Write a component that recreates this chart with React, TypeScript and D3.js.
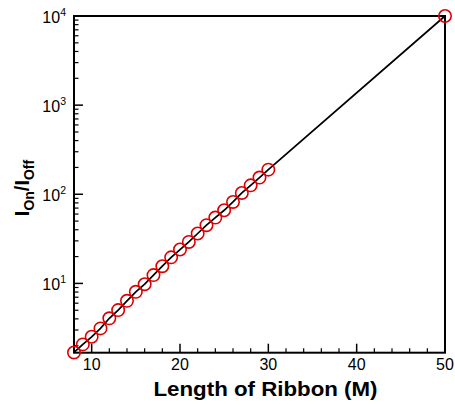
import React from "react";
import * as d3 from "d3";

const lengths = [8, 9, 10, 11, 12, 13, 14, 15, 16, 17, 18, 19, 20, 21, 22, 23, 24, 25, 26, 27, 28, 29, 30, 50];
const ratios = [1.68, 2.07, 2.52, 3.13, 4.06, 5.02, 6.38, 8.05, 9.8, 12.4, 15.6, 19.6, 24.0, 29.2, 36.3, 45.0, 54.8, 66.2, 82, 103.5, 126, 154, 189, 10000];
const xTicks = [10, 20, 30, 40, 50];
const xMinorTicks = [8, 12, 14, 16, 18, 22, 24, 26, 28, 32, 34, 36, 38, 42, 44, 46, 48];
const yTickExps = [1, 2, 3, 4];

const W = 455, H = 405;
const L = 74, R = 445, T = 16, B = 352.7;

export default function App() {
  const x = d3.scaleLinear().domain([8, 50]).range([L, R]);
  const y = d3.scaleLog().domain([1.67, 10000]).range([B, T]);
  const data = lengths.map((l, i) => ({ l, r: ratios[i] }));
  const line = d3.line<{ l: number; r: number }>().x(d => x(d.l)).y(d => y(d.r));
  const minorY: number[] = [];
  for (let e = 0; e <= 3; e++) for (let k = 2; k <= 9; k++) {
    const v = k * Math.pow(10, e);
    if (v >= 1.67 && v <= 10000) minorY.push(v);
  }
  const font = "'Liberation Sans', Arial, Helvetica, sans-serif";
  return (
    <svg width={W} height={H} style={{ position: "absolute", left: 0, top: 0 }} fontFamily={font}>
      <rect width={W} height={H} fill="white" />
      {xTicks.map(t => (
        <line key={"xt" + t} x1={x(t)} x2={x(t)} y1={B} y2={B - 9} stroke="black" strokeWidth={1.5} />
      ))}
      {xMinorTicks.map(t => (
        <line key={"xm" + t} x1={x(t)} x2={x(t)} y1={B} y2={B - 4.5} stroke="black" strokeWidth={1.2} />
      ))}
      {yTickExps.map(e => (
        <line key={"yt" + e} x1={L} x2={L + 9} y1={y(Math.pow(10, e))} y2={y(Math.pow(10, e))} stroke="black" strokeWidth={1.5} />
      ))}
      {minorY.map(v => (
        <line key={"ym" + v} x1={L} x2={L + 4.5} y1={y(v)} y2={y(v)} stroke="black" strokeWidth={1.2} />
      ))}
      <rect x={L} y={T} width={R - L} height={B - T} fill="none" stroke="black" strokeWidth={2} />
      <path d={line(data) || ""} fill="none" stroke="black" strokeWidth={1.7} />
      {data.map(d => (
        <circle key={"c" + d.l} cx={x(d.l)} cy={y(d.r)} r={6.2} fill="none" stroke="#dd0000" strokeWidth={1.6} />
      ))}
      {xTicks.map(t => (
        <text key={"xl" + t} x={x(t)} y={B + 17.3} textAnchor="middle" fontSize={16} fill="black">{t}</text>
      ))}
      {yTickExps.map(e => (
        <text key={"yl" + e} x={66} y={y(Math.pow(10, e)) + 7} textAnchor="end" fontSize={16} fill="black">
          10<tspan fontSize={10.5} dy={-7.5}>{e}</tspan>
        </text>
      ))}
      <text x={265.5} y={396} textAnchor="middle" fontSize={20} fontWeight="bold" fill="black"
        textLength={224} lengthAdjust="spacingAndGlyphs">Length of Ribbon (M)</text>
      <text transform={`translate(28.5,${188}) rotate(-90)`} textAnchor="middle" fontSize={20} fontWeight="bold" fill="black">
        I<tspan fontSize={14} dy={5}>On</tspan><tspan dy={-5}>/I</tspan><tspan fontSize={14} dy={5}>Off</tspan>
      </text>
    </svg>
  );
}
